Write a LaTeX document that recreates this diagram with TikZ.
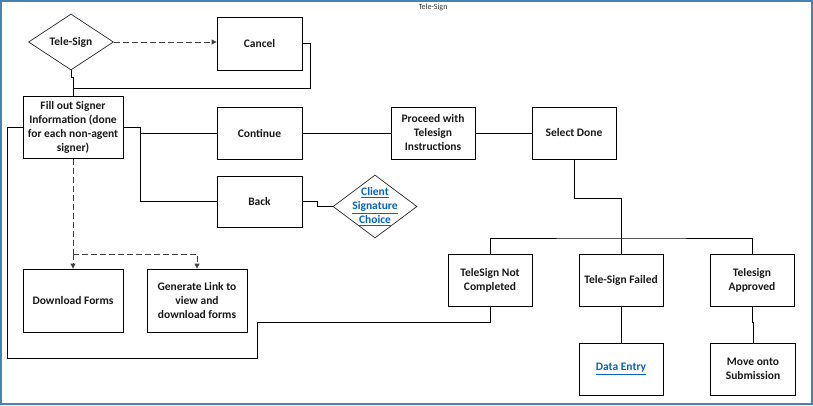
\documentclass[tikz,border=0pt]{standalone}
\usepackage{fontspec}
\setmainfont{Carlito}
\usetikzlibrary{shapes.geometric,arrows.meta}
\definecolor{frameblue}{RGB}{70,130,180}
\definecolor{linkblue}{RGB}{5,99,193}
\definecolor{dgray}{RGB}{64,64,64}
\begin{document}
\begin{tikzpicture}[x=1pt,y=-1pt,
  box/.style={draw=black, line width=0.8pt, align=center, inner sep=1pt,
    font=\fontsize{11.5}{14}\selectfont\bfseries, text=black!90},
  ddia/.style={draw=black!85, line width=0.7pt, diamond, inner sep=-20pt},
  conn/.style={draw=black, line width=0.8pt},
  dconn/.style={draw=dgray, line width=0.8pt, dash pattern=on 6pt off 3pt},
  tip/.style={-{Triangle[length=5pt,width=5pt]}},
  linktxt/.style={align=center, text=linkblue, font=\fontsize{11.5}{14}\selectfont\bfseries}
]
\useasboundingbox (0,0) rectangle (813,405);
\draw[frameblue, line width=2pt] (1,1) rectangle (812,404);
\node[font=\fontsize{8}{10}\selectfont, text=black!80] (title) at (433,7) {Tele-Sign};

% diamonds
\node[ddia, minimum width=85pt, minimum height=56pt, font=\fontsize{11.5}{14}\selectfont\bfseries, text=black!90] (tele) at (71,42) {Tele-Sign};
\node[ddia, minimum width=84pt, minimum height=63pt] (csc) at (375,206.5) {};
\node[linktxt] (csctext) at (csc) {\underline{Client}\\\underline{Signature}\\\underline{Choice}};

% boxes
\node[box, minimum width=85pt, minimum height=53pt] (cancel) at (259.5,43.5) {Cancel};
\node[box, minimum width=100pt, minimum height=62pt] (fill) at (73,127.5) {Fill out Signer\\Information (done\\for each non-agent\\signer)};
\node[box, minimum width=85pt, minimum height=52pt] (cont) at (259.5,133) {Continue};
\node[box, minimum width=84pt, minimum height=52pt] (proc) at (433,133) {Proceed with\\Telesign\\Instructions};
\node[box, minimum width=84pt, minimum height=52pt] (sel) at (574,133) {Select Done};
\node[box, minimum width=85pt, minimum height=51pt] (back) at (259.5,201.5) {Back};
\node[box, minimum width=100pt, minimum height=63pt] (dl) at (73,300.5) {Download Forms};
\node[box, minimum width=100pt, minimum height=63pt] (gen) at (197,300.5) {Generate Link to\\view and\\download forms};
\node[box, minimum width=84pt, minimum height=52pt] (notc) at (490,280) {TeleSign Not\\Completed};
\node[box, minimum width=84pt, minimum height=52pt] (fail) at (621,280) {Tele-Sign Failed};
\node[box, minimum width=84pt, minimum height=52pt] (appr) at (752,280) {Telesign\\Approved};
\node[box, minimum width=84pt, minimum height=52pt, text=linkblue] (de) at (621,369) {\underline{Data Entry}};
\node[box, minimum width=85pt, minimum height=52pt] (move) at (753,369) {Move onto\\Submission};

% coordinates
\coordinate (j1) at (73,88);
\coordinate (j2) at (140,127.5);
\coordinate (j3) at (73,254);
\coordinate (j4) at (621,238);

% connectors
\draw[dconn, tip] (tele.east) -- (tele.east -| cancel.west);
\draw[conn] (cancel.east) -| (310,88) -- (j1) -- (fill.north);
\draw[conn] (tele.south) -- ++(0,7) -| (j1);
\draw[conn] (fill.west) -| (7,358) -| (257,322) -| (notc.south);
\draw[conn] (fill.east) -- (j2) |- (back.west);
\draw[conn] (140,133) -- (cont.west);
\draw[conn] (cont.east) -- (proc.west);
\draw[conn] (proc.east) -- (sel.west);
\draw[conn] (sel.south) |- (621,198) -- (fail.north);
\draw[conn] (notc.north) |- (j4) -| (appr.north);
\draw[conn] (fail.south) -- (de.north);
\draw[conn] (appr.south) -- ++(0,16) -| (move.north);
\draw[conn] (back.east) -- ++(15,0) |- (csc.west);
\draw[dconn] (fill.south) -- (j3);
\draw[dconn, tip] (j3) -- (dl.north);
\draw[dconn, tip] (j3) -| (gen.north);
\end{tikzpicture}
\end{document}
